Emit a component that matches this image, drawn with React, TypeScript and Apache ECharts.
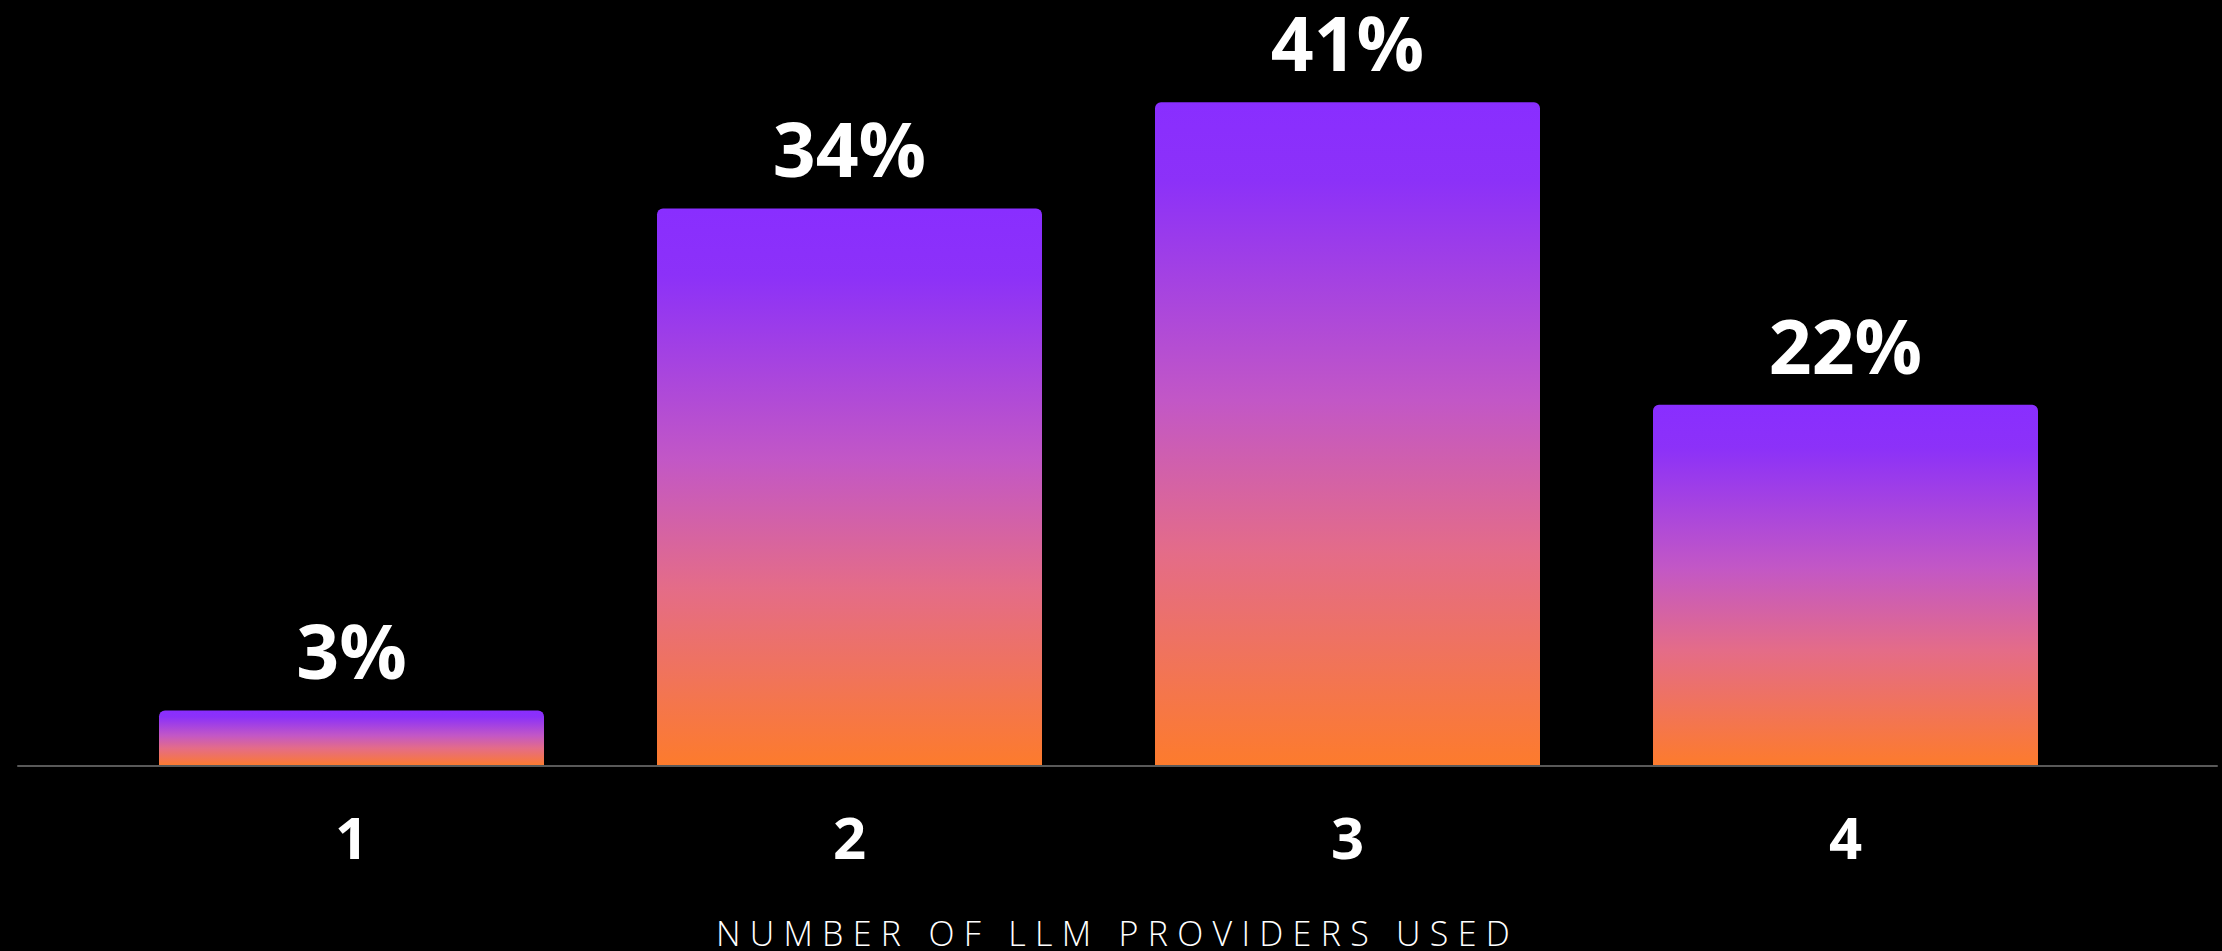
import React, { useEffect, useRef } from "react";
import * as echarts from "echarts";

const categories = ["1", "2", "3", "4"];
const shareValues = [3.4, 34.1, 40.6, 22.1];
const axisTitle = "NUMBER OF LLM PROVIDERS USED";

export default function App() {
  const ref = useRef<HTMLDivElement>(null);

  useEffect(() => {
    if (!ref.current) return;
    const chart = echarts.init(ref.current, undefined, { renderer: "svg" });
    const barGradient = new echarts.graphic.LinearGradient(0, 0, 0, 1, [
      { offset: 0, color: "#892EFF" },
      { offset: 0.12, color: "#8C31F8" },
      { offset: 0.45, color: "#C257C6" },
      { offset: 0.68, color: "#E46C88" },
      { offset: 1, color: "#FD7B2C" },
    ]);
    chart.setOption({
      animation: false,
      backgroundColor: "#000000",
      grid: [
        { left: 102.5, right: 127.5, top: 30.25, bottom: 185, outerBoundsMode: "none", containLabel: false },
        { left: 18, right: 5, top: 30.25, bottom: 185, outerBoundsMode: "none", containLabel: false },
      ],
      xAxis: [
        {
          type: "category",
          gridIndex: 0,
          data: categories,
          axisLine: { show: false },
          axisTick: { show: false },
          axisLabel: {
            color: "#ffffff",
            fontFamily: "Open Sans",
            fontWeight: "bold",
            fontSize: 58,
            margin: 41,
          },
        },
        {
          type: "value",
          gridIndex: 1,
          min: 0,
          max: 1,
          z: 5,
          axisLine: { show: true, lineStyle: { color: "#595959", width: 2 } },
          axisTick: { show: false },
          axisLabel: { show: false },
          splitLine: { show: false },
          name: axisTitle,
          nameLocation: "middle",
          nameGap: 153,
          nameTextStyle: {
            color: "#ffffff",
            fontFamily: "Open Sans",
            fontWeight: 300,
            fontSize: 34,
            lineHeight: 28,
          },
        },
      ],
      yAxis: [
        { type: "value", gridIndex: 0, min: 0, max: 45, show: false },
        { type: "value", gridIndex: 1, min: 0, max: 1, show: false },
      ],
      series: [
        {
          type: "bar",
          xAxisIndex: 0,
          yAxisIndex: 0,
          data: shareValues,
          barWidth: 385,
          itemStyle: { color: barGradient, borderRadius: [6, 6, 0, 0] },
          label: {
            show: true,
            position: "top",
            distance: 28,
            color: "#ffffff",
            fontFamily: "Open Sans",
            fontWeight: "bold",
            fontSize: 75,
            lineHeight: 64,
            formatter: (p: any) => Math.round(p.value) + "%",
          },
        },
      ],
    });
    const texts = ref.current.querySelectorAll("text");
    texts.forEach((t) => {
      if (t.textContent === axisTitle) {
        (t as SVGTextElement).style.letterSpacing = "9.3px";
      }
    });
    return () => chart.dispose();
  }, []);

  return (
    <div
      ref={ref}
      style={{ position: "absolute", left: 0, top: 0, width: 2222, height: 951 }}
    />
  );
}
